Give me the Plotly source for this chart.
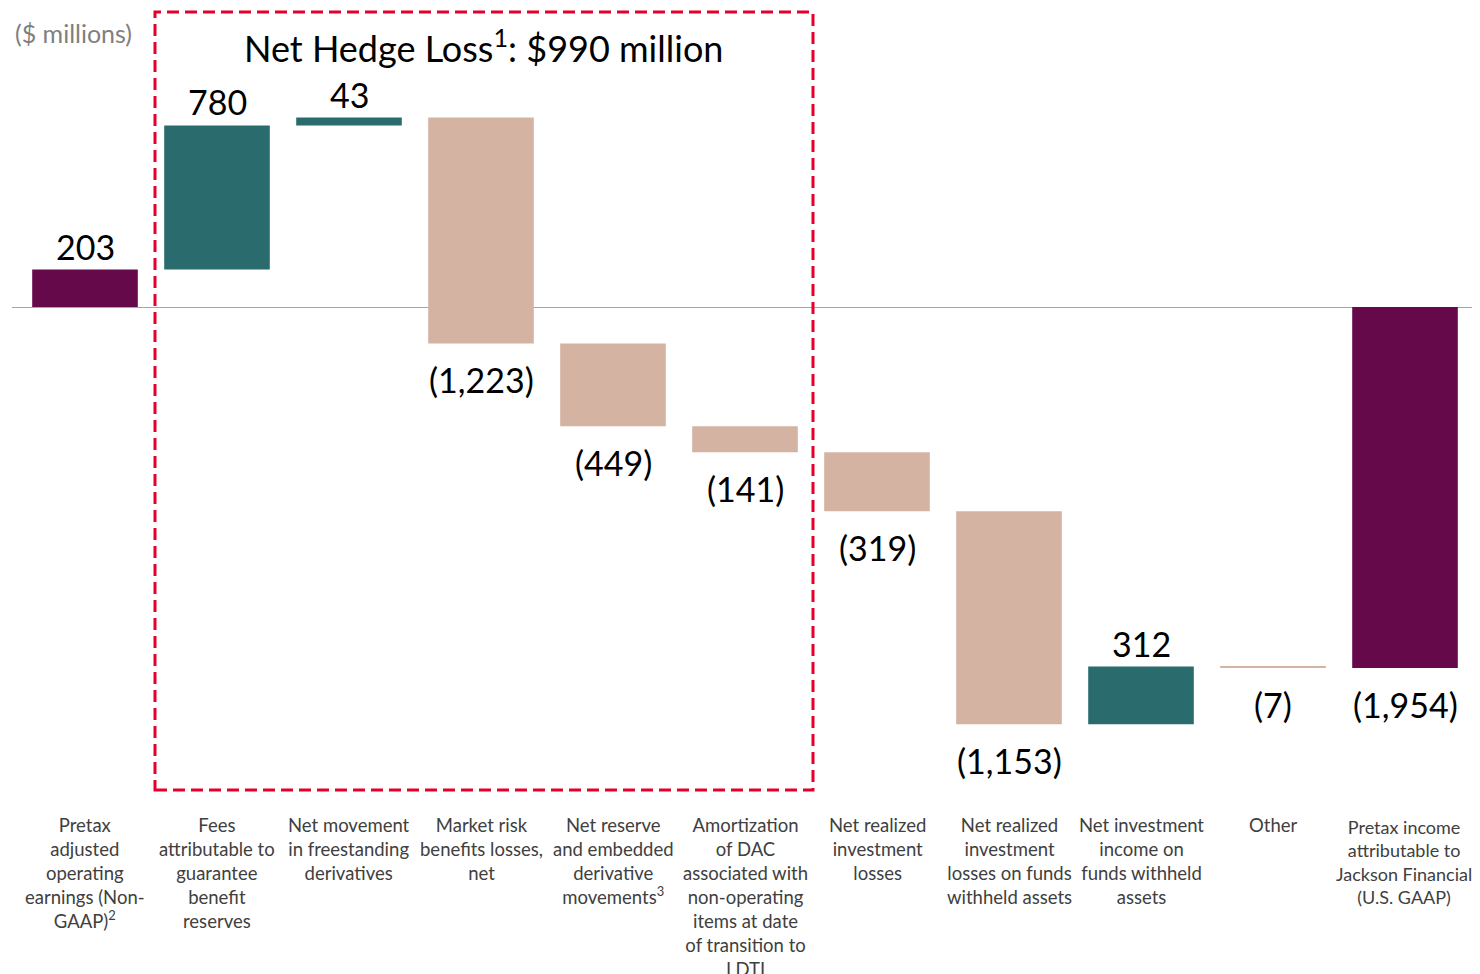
import plotly.graph_objects as go

categories = [
    "Pretax<br>adjusted<br>operating<br>earnings (Non-<br>GAAP)<sup>2</sup>",
    "Fees<br>attributable to<br>guarantee<br>benefit<br>reserves",
    "Net movement<br>in freestanding<br>derivatives",
    "Market risk<br>benefits losses,<br>net",
    "Net reserve<br>and embedded<br>derivative<br>movements<sup>3</sup>",
    "Amortization<br>of DAC<br>associated with<br>non-operating<br>items at date<br>of transition to<br>LDTI",
    "Net realized<br>investment<br>losses",
    "Net realized<br>investment<br>losses on funds<br>withheld assets",
    "Net investment<br>income on<br>funds withheld<br>assets",
    "Other",
    "Pretax income<br>attributable to<br>Jackson Financial<br>(U.S. GAAP)",
]
values = [203, 780, 43, -1223, -449, -141, -319, -1153, 312, -7, -1954]
measures = ["absolute"] + ["relative"] * 9 + ["total"]

title_text = "Net Hedge Loss<sup>1</sup>: $990 million"
unit_text = "($ millions)"

def fmt(v):
    return f"{v:,}" if v >= 0 else f"({abs(v):,})"

labels = [fmt(v) for v in values]

# bar end points (running total) for label placement
ends = []
run = 0
for v, m in zip(values, measures):
    if m == "absolute":
        run = v
    elif m == "relative":
        run += v
    ends.append(run)

PURPLE = "#66094a"
TEAL = "#2a6b6e"
TAN = "#d4b3a3"
FONT = "Lato, Open Sans, sans-serif"

OFF = 8
ZERO_PX = 307 - OFF
SCALE = 0.1847
H = 974 - OFF
W = 1480 - OFF
y_top = ZERO_PX / SCALE
y_bot = -(H - ZERO_PX) / SCALE

def ypx(p):
    return (ZERO_PX - (p - OFF)) / SCALE

def xpx(p):
    return (p - 85) / 132

xpos = list(range(len(categories)))

fig = go.Figure()
fig.add_trace(go.Waterfall(
    x=xpos,
    y=values,
    measure=measures,
    textposition="none",
    increasing=dict(marker=dict(color=TEAL)),
    decreasing=dict(marker=dict(color=TAN)),
    totals=dict(marker=dict(color=PURPLE)),
    connector=dict(visible=False),
    width=0.8,
    cliponaxis=False,
    hoverinfo="skip",
))

for i, (lab, v, e) in enumerate(zip(labels, values, ends)):
    pos = v >= 0
    fig.add_annotation(
        x=i, y=e, xref="x", yref="y", text=lab, showarrow=False,
        xanchor="center", yanchor="bottom" if pos else "top",
        yshift=1 if pos else -14,
        font=dict(family=FONT, size=34, color="#000000"),
    )

for i, c in enumerate(categories):
    last = i == len(categories) - 1
    fig.add_annotation(
        x=xpx(1404) if last else i, y=ypx(814) if last else ypx(812),
        xref="x", yref="y",
        text=c, showarrow=False, yanchor="top", xanchor="center",
        align="center",
        font=dict(family=FONT, size=18 if last else 18.5, color="#404040"),
    )

fig.add_annotation(
    x=xpx(483), y=ypx(46), xref="x", yref="y",
    text=title_text, showarrow=False, xanchor="center", yanchor="middle",
    font=dict(family=FONT, size=36, color="#000000"),
)
fig.add_annotation(
    x=xpx(73), y=ypx(33), xref="x", yref="y",
    text=unit_text, showarrow=False, xanchor="center", yanchor="middle",
    font=dict(family=FONT, size=25, color="#7f7f7f"),
)

fig.add_shape(
    type="rect", xref="x", yref="y",
    x0=xpx(155), x1=xpx(813),
    y0=ypx(790), y1=ypx(12),
    line=dict(color="#e4002b", width=3, dash="12px,6px"),
    fillcolor="rgba(0,0,0,0)",
)

fig.update_layout(
    width=W, height=H,
    margin=dict(l=4, r=0, t=0, b=0),
    paper_bgcolor="white", plot_bgcolor="white",
    showlegend=False,
    font=dict(family=FONT),
    xaxis=dict(range=[xpx(12), xpx(1480)], showticklabels=False,
               showgrid=False, zeroline=False, showline=False, fixedrange=True),
    yaxis=dict(range=[y_bot, y_top], showticklabels=False, showgrid=False,
               zeroline=True, zerolinecolor="#a6a6a6", zerolinewidth=1,
               showline=False, fixedrange=True),
)

fig.write_html("out.html")
